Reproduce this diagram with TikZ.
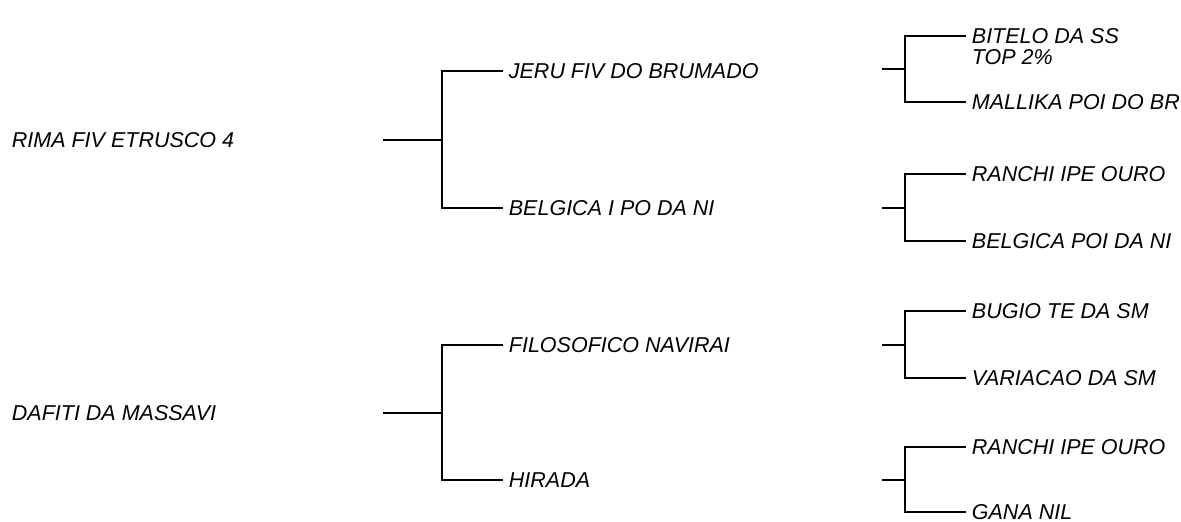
\documentclass[tikz,border=0pt]{standalone}
\usepackage{fontspec}
\setmainfont{Liberation Sans}
\usetikzlibrary{positioning}
\begin{document}
\begin{tikzpicture}[x=1pt,y=-1pt,line width=1.8pt,horse/.style={anchor=west, inner sep=0pt, text height=15pt, text depth=0pt, font=\fontsize{21.5}{21.5}\selectfont\itshape}]
    \tikzset{jn/.style={coordinate}}
    \useasboundingbox (0,0) rectangle (1181,522);
    \def \xa {383} \def \xb {442} \def \xc {503} \def \xd {882} \def \xe {905} \def \xf {966}
    \def \gap {5pt}

    % sire side
    \node[horse] (s) at (11,140) {RIMA FIV ETRUSCO 4};
    \node[jn] (s0) at (\xa,140) {}; \node[jn] (s1) at (\xb,140) {};
    \node[jn] (ssc) at (\xc,71) {}; \node[jn] (sdc) at (\xc,208) {};
    \node[horse, right=\gap of ssc] (ss) {JERU FIV DO BRUMADO};
    \node[horse, right=\gap of sdc] (sd) {BELGICA I PO DA NI};
    \draw (s0) -- (s1);
    \draw[shorten >=\gap] (s1) |- (ss);
    \draw[shorten >=\gap] (s1) |- (sd);

    \node[jn] (ss0) at (\xd,69) {}; \node[jn] (ss1) at (\xe,69) {};
    \node[jn] (sssc) at (\xf,36) {}; \node[jn] (ssdc) at (\xf,102) {};
    \node[horse, right=\gap of sssc] (sss) {BITELO DA SS};
    \node[horse, anchor=north west, yshift=-4pt] (sssb) at (sss.south west) {TOP 2\%};
    \node[horse, right=\gap of ssdc] (ssd) {MALLIKA POI DO BR};
    \draw (ss0) -- (ss1);
    \draw[shorten >=\gap] (ss1) |- (sss);
    \draw[shorten >=\gap] (ss1) |- (ssd);

    \node[jn] (sd0) at (\xd,208) {}; \node[jn] (sd1) at (\xe,208) {};
    \node[jn] (sdsc) at (\xf,174) {}; \node[jn] (sddc) at (\xf,241) {};
    \node[horse, right=\gap of sdsc] (sds) {RANCHI IPE OURO};
    \node[horse, right=\gap of sddc] (sdd) {BELGICA POI DA NI};
    \draw (sd0) -- (sd1);
    \draw[shorten >=\gap] (sd1) |- (sds);
    \draw[shorten >=\gap] (sd1) |- (sdd);

    % dam side
    \node[horse] (d) at (11,413) {DAFITI DA MASSAVI};
    \node[jn] (d0) at (\xa,413) {}; \node[jn] (d1) at (\xb,413) {};
    \node[jn] (dsc) at (\xc,345) {}; \node[jn] (ddc) at (\xc,480) {};
    \node[horse, right=\gap of dsc] (ds) {FILOSOFICO NAVIRAI};
    \node[horse, right=\gap of ddc] (dd) {HIRADA};
    \draw (d0) -- (d1);
    \draw[shorten >=\gap] (d1) |- (ds);
    \draw[shorten >=\gap] (d1) |- (dd);

    \node[jn] (ds0) at (\xd,345) {}; \node[jn] (ds1) at (\xe,345) {};
    \node[jn] (dssc) at (\xf,311) {}; \node[jn] (dsdc) at (\xf,378) {};
    \node[horse, right=\gap of dssc] (dss) {BUGIO TE DA SM};
    \node[horse, right=\gap of dsdc] (dsd) {VARIACAO DA SM};
    \draw (ds0) -- (ds1);
    \draw[shorten >=\gap] (ds1) |- (dss);
    \draw[shorten >=\gap] (ds1) |- (dsd);

    \node[jn] (dd0) at (\xd,480) {}; \node[jn] (dd1) at (\xe,480) {};
    \node[jn] (ddsc) at (\xf,447) {}; \node[jn] (dddc) at (\xf,512) {};
    \node[horse, right=\gap of ddsc] (dds) {RANCHI IPE OURO};
    \node[horse, right=\gap of dddc] (ddd) {GANA NIL};
    \draw (dd0) -- (dd1);
    \draw[shorten >=\gap] (dd1) |- (dds);
    \draw[shorten >=\gap] (dd1) |- (ddd);
\end{tikzpicture}
\end{document}
